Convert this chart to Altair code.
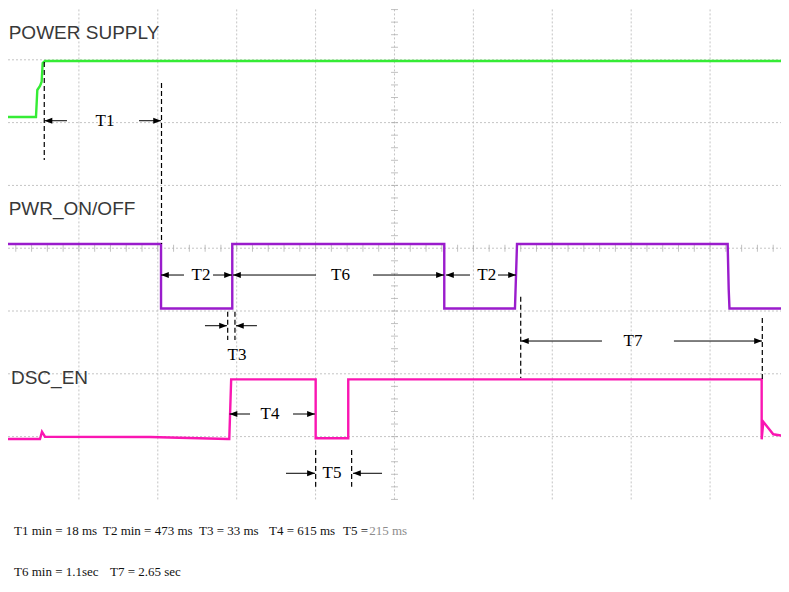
import altair as alt
import pandas as pd

# ---------------- data (scope divisions: x = time 0..10 div, y = level 0..8 div from bottom)
grid_x = [1, 2, 3, 4, 5, 6, 7, 8, 9]
grid_y = [1, 2, 3, 4, 5, 6, 7]
minor_steps = [0.2, 0.4, 0.6, 0.8]

ps_x = [0.0, 0.456, 0.473, 0.507, 0.528, 0.541, 0.570, 10.0]
ps_y = [6.089, 6.089, 6.52, 6.583, 6.65, 6.949, 6.981, 6.981]

pwr_x = [0.0, 2.041, 2.041, 2.944, 2.944, 5.631, 5.631, 6.527, 6.553, 9.223, 9.236, 9.246, 10.0]
pwr_y = [4.067, 4.067, 3.04, 3.04, 4.067, 4.067, 3.04, 3.04, 4.067, 4.067, 3.35, 3.04, 3.04]

dsc_x = [0.0, 0.507, 0.532, 0.570, 1.901, 2.89, 2.906, 2.93, 4.001, 4.001, 4.414, 4.414,
         9.654, 9.654, 9.675, 9.801, 10.0]
dsc_y = [0.962, 0.962, 1.078, 0.998, 0.994, 0.962, 0.962, 1.912, 1.912, 0.973, 0.973, 1.912,
         1.912, 0.956, 1.237, 1.037, 0.995]

sig_names = ["POWER SUPPLY", "PWR_ON/OFF", "DSC_EN"]
sig_colors = ["#35ec35", "#9a1ccc", "#fa16b2"]
sig_lab_x = [0.11, 0.11, 0.139]
sig_lab_y = [7.326, 4.529, 1.842]

arrow_y = [6.030, 6.030, 3.573, 3.573, 3.573, 3.573, 3.573, 3.573,
           2.766, 2.766, 2.522, 2.522, 1.36, 1.36, 0.416, 0.416]
arrow_tail = [0.849, 1.762, 2.332, 2.70, 4.005, 4.728, 5.957, 6.312,
              2.598, 3.257, 7.63, 8.542, 3.169, 3.714, 3.625, 4.842]
arrow_head = [0.564, 2.041, 2.041, 2.94, 2.953, 5.627, 5.653, 6.54,
              2.877, 2.991, 6.603, 9.658, 2.909, 3.992, 3.992, 4.474]

dash_x = [0.561, 2.047, 2.886, 2.978, 6.60, 9.662, 4.001, 4.457]
dash_y1 = [6.965, 6.631, 2.989, 2.989, 3.228, 2.889, 0.787, 0.787]
dash_y2 = [5.404, 4.067, 2.538, 2.538, 1.933, 1.917, 0.202, 0.202]

tlab_text = ["T1", "T2", "T6", "T2", "T3", "T7", "T4", "T5"]
tlab_x = [1.331, 2.548, 4.316, 6.169, 3.004, 8.023, 3.422, 4.208]
tlab_y = [6.030, 3.573, 3.573, 3.573, 2.299, 2.522, 1.36, 0.416]

note_text = ["T1 min = 18 ms", "T2 min = 473 ms", "T3 = 33 ms", "T4 = 615 ms", "T5 =",
             "215 ms", "T6 min = 1.1sec", "T7 = 2.65 sec"]
note_x = [0.177, 1.305, 2.522, 3.409, 4.347, 4.68, 0.177, 1.394]
note_y = [-0.503, -0.503, -0.503, -0.503, -0.503, -0.503, -1.151, -1.151]
note_color = ["#111111", "#111111", "#111111", "#111111", "#111111", "#8c8c8c", "#111111", "#111111"]

# ---------------- tables
XS = alt.Scale(domain=[0.1014, 9.899], nice=False, zero=False)
YS = alt.Scale(domain=[-1.347, 7.825], nice=False, zero=False)


def X(f, **kw):
    return alt.X(f, type="quantitative", scale=XS, axis=None, **kw)


def Y(f, **kw):
    return alt.Y(f, type="quantitative", scale=YS, axis=None, **kw)


vgrid = pd.DataFrame({"x": grid_x, "y1": [0] * len(grid_x), "y2": [8] * len(grid_x)})
hgrid = pd.DataFrame({"y": grid_y, "x1": [0] * len(grid_y), "x2": [10] * len(grid_y)})
vt = [d + s for d in range(8) for s in [0.0] + minor_steps]
ht = [d + s for d in range(10) for s in [0.0] + minor_steps]
vticks = pd.DataFrame({"x": [5] * len(vt), "y": vt})
hticks = pd.DataFrame({"x": ht, "y": [4] * len(ht)})

traces = []
for name, xs, ys in zip(sig_names, [ps_x, pwr_x, dsc_x], [ps_y, pwr_y, dsc_y]):
    for i, (a, b) in enumerate(zip(xs, ys)):
        traces.append({"signal": name, "i": i, "x": a, "y": b})
traces = pd.DataFrame(traces)

sig_labels = pd.DataFrame({"t": sig_names, "x": sig_lab_x, "y": sig_lab_y})
arrows = pd.DataFrame({"y": arrow_y, "tail": arrow_tail, "head": arrow_head})
arrows["dir"] = ["right" if h > t else "left" for h, t in zip(arrow_head, arrow_tail)]
dashes = pd.DataFrame({"x": dash_x, "y1": dash_y1, "y2": dash_y2})
tlabels = pd.DataFrame({"t": tlab_text, "x": tlab_x, "y": tlab_y})
notes = pd.DataFrame({"t": note_text, "x": note_x, "y": note_y, "c": note_color})

GRID = "#c4c4c4"

vg = alt.Chart(vgrid).mark_rule(color=GRID, strokeDash=[2, 2], strokeWidth=1, clip=True).encode(
    x=X("x"), y=Y("y1"), y2="y2")
hg = alt.Chart(hgrid).mark_rule(color=GRID, strokeDash=[2, 2], strokeWidth=1, clip=True).encode(
    y=Y("y"), x=X("x1"), x2="x2")
vtk = alt.Chart(vticks).mark_tick(orient="horizontal", size=7, thickness=1, color="#a8a8a8", clip=True).encode(
    x=X("x"), y=Y("y"))
htk = alt.Chart(hticks).mark_tick(orient="vertical", size=7, thickness=1, color="#a8a8a8", clip=True).encode(
    x=X("x"), y=Y("y"))

lines = alt.Chart(traces).mark_line(strokeWidth=2.4, clip=True, interpolate="linear").encode(
    x=X("x"), y=Y("y"), order="i:Q",
    color=alt.Color("signal:N", scale=alt.Scale(domain=sig_names, range=sig_colors), legend=None),
    detail="signal:N")

slab = alt.Chart(sig_labels).mark_text(font="Liberation Sans", fontSize=19, color="#383838",
                                       align="left", baseline="alphabetic").encode(
    x=X("x"), y=Y("y"), text="t:N")

ar = alt.Chart(arrows).mark_rule(color="black", strokeWidth=1).encode(
    x=X("tail"), x2="head", y=Y("y"))
ah_r = alt.Chart(arrows).transform_filter(alt.datum.dir == "right").mark_point(
    shape="M0,0L-2.6,-1L-2.6,1Z", filled=True, size=36, color="black", opacity=1).encode(
    x=X("head"), y=Y("y"))
ah_l = alt.Chart(arrows).transform_filter(alt.datum.dir == "left").mark_point(
    shape="M0,0L2.6,-1L2.6,1Z", filled=True, size=36, color="black", opacity=1).encode(
    x=X("head"), y=Y("y"))

dl = alt.Chart(dashes).mark_rule(color="black", strokeWidth=1.2, strokeDash=[5, 3]).encode(
    x=X("x"), y=Y("y1"), y2="y2")

tl = alt.Chart(tlabels).mark_text(font="Liberation Serif", fontSize=17, color="black",
                                  align="center", baseline="middle").encode(
    x=X("x"), y=Y("y"), text="t:N")

nt = alt.Chart(notes).mark_text(font="Liberation Serif", fontSize=13, align="left",
                                baseline="middle").encode(
    x=X("x"), y=Y("y"), text="t:N", color=alt.Color("c:N", scale=None, legend=None))

chart = alt.layer(vg, hg, vtk, htk, lines, slab, dl, ar, ah_r, ah_l, tl, nt).properties(
    width=773, height=576, padding=0, autosize=alt.AutoSizeParams(type="none"),
    background="white"
).configure_view(strokeWidth=0)

chart.save("out.html", embed_options={"renderer": "svg", "actions": False})
